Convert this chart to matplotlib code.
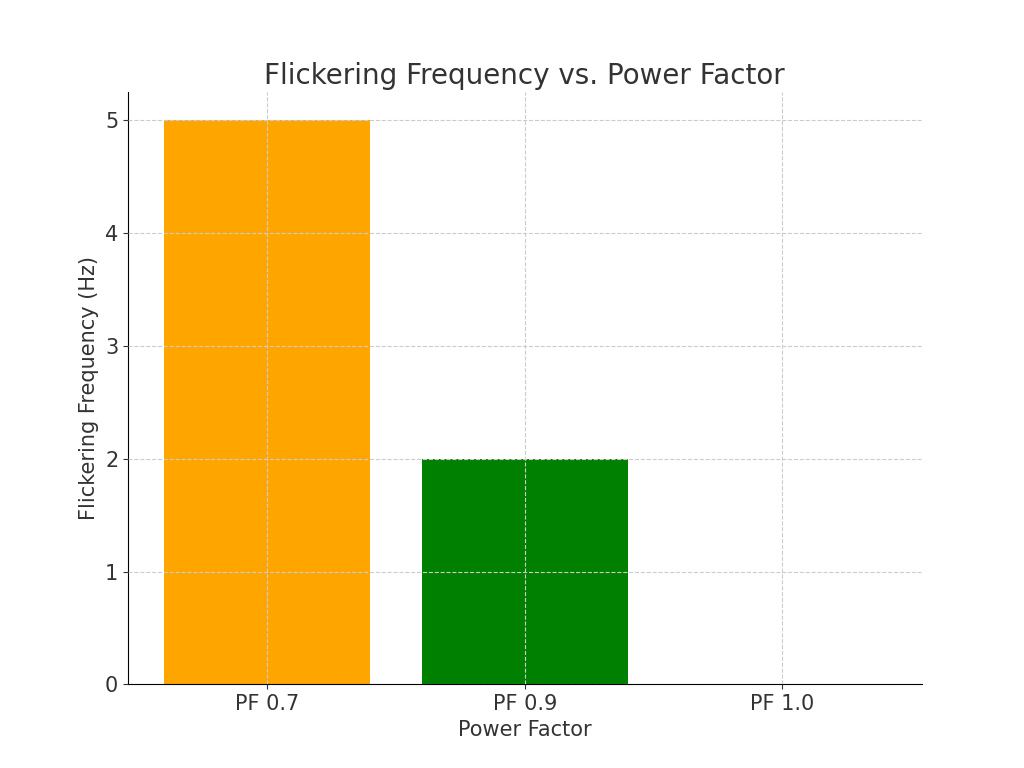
import matplotlib
matplotlib.use("Agg")
import matplotlib.pyplot as plt

categories = ["PF 0.7", "PF 0.9", "PF 1.0"]
values = [5, 2, 0]
colors = ["orange", "green", "red"]

fig = plt.figure(figsize=(10.24, 7.68), dpi=100)
ax = fig.add_axes([0.125, 0.109, 0.775, 0.771])
ax.bar(categories, values, color=colors, zorder=2)
ax.set_title("Flickering Frequency vs. Power Factor", fontsize=20, color="#333333")
ax.set_xlabel("Power Factor", fontsize=15, color="#333333")
ax.set_ylabel("Flickering Frequency (Hz)", fontsize=15, color="#333333")
ax.tick_params(labelsize=15, colors="#333333")
ax.grid(True, linestyle="--", color="#cccccc", zorder=0)
ax.set_axisbelow(False)
for s in ["top", "right"]:
    ax.spines[s].set_visible(False)
ax.set_ylim(0, 5.25)
fig.savefig("out.png", dpi=100)
